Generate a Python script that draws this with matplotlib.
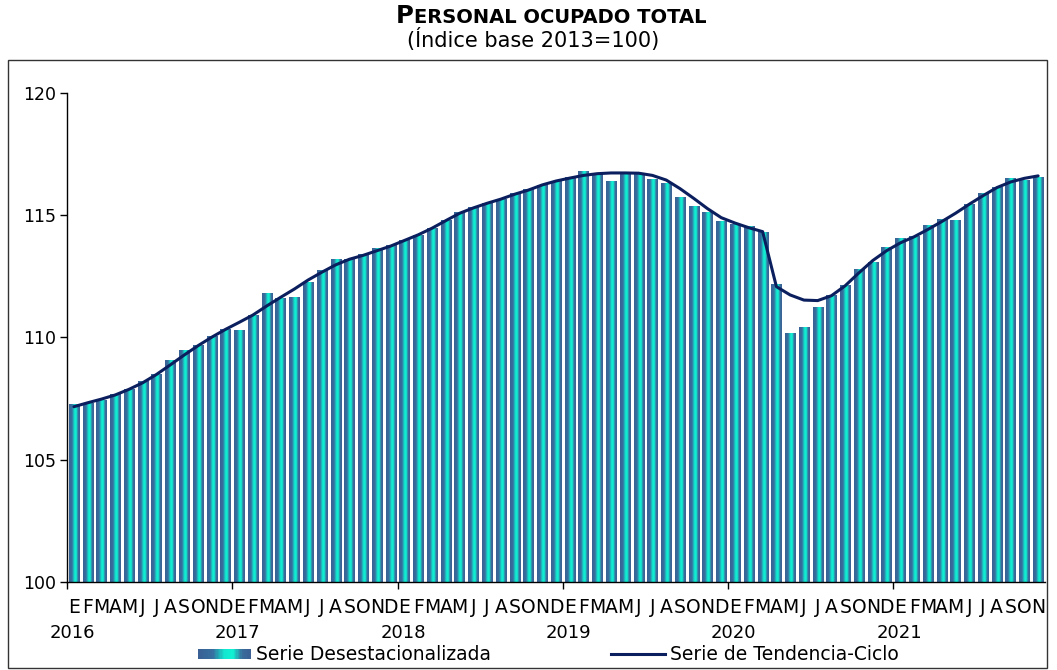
# -*- coding: utf-8 -*-
"""
Personal ocupado total, indice base 2013=100
Serie desestacionalizada (barras) y serie de tendencia-ciclo (linea)
"""

import numpy as np
import matplotlib
matplotlib.use("Agg")
import matplotlib.pyplot as plt
from matplotlib.colors import LinearSegmentedColormap
from matplotlib.legend_handler import HandlerBase
from matplotlib.patches import Rectangle
from matplotlib.lines import Line2D
from matplotlib.transforms import blended_transform_factory


#%% Data (ene 2016 - nov 2021)

years = ["2016", "2017", "2018", "2019", "2020", "2021"]
month_letters = ["E", "F", "M", "A", "M", "J", "J", "A", "S", "O", "N", "D"]

desestacionalizada = [
    107.26, 107.30, 107.42, 107.65, 107.88, 108.18, 108.47, 109.04, 109.45, 109.69, 110.03, 110.33,   # 2016
    110.27, 110.88, 111.82, 111.59, 111.62, 112.23, 112.72, 113.21, 113.18, 113.39, 113.65, 113.76,   # 2017
    113.96, 114.18, 114.44, 114.77, 115.11, 115.32, 115.49, 115.65, 115.87, 116.07, 116.22, 116.36,   # 2018
    116.56, 116.80, 116.72, 116.36, 116.69, 116.72, 116.47, 116.28, 115.72, 115.34, 115.12, 114.74,   # 2019
    114.64, 114.56, 114.29, 112.15, 110.18, 110.39, 111.22, 111.70, 112.12, 112.77, 113.05, 113.70,   # 2020
    114.03, 114.12, 114.59, 114.81, 114.78, 115.42, 115.90, 116.13, 116.51, 116.43, 116.56,           # 2021
]

tendencia = [
    107.17, 107.33, 107.48, 107.65, 107.88, 108.15, 108.49, 108.88, 109.28, 109.66, 110.01, 110.33,
    110.62, 110.92, 111.29, 111.64, 111.98, 112.35, 112.67, 112.97, 113.20, 113.36, 113.55, 113.74,
    113.97, 114.20, 114.47, 114.78, 115.08, 115.30, 115.49, 115.66, 115.86, 116.03, 116.24, 116.40,
    116.52, 116.63, 116.70, 116.73, 116.73, 116.72, 116.63, 116.44, 116.09, 115.69, 115.27, 114.90,
    114.68, 114.49, 114.33, 112.08, 111.74, 111.53, 111.51, 111.71, 112.12, 112.65, 113.15, 113.55,
    113.87, 114.12, 114.42, 114.74, 115.08, 115.45, 115.80, 116.13, 116.36, 116.51, 116.61,
]

#%% Styles

W, H = 1057, 670
line_color = "#0B1F5E"
bar_blue = "#3A6094"
bar_cmap = LinearSegmentedColormap.from_list(
    "barra", [(0.0, bar_blue), (0.28, "#3670A0"), (0.50, "#12E6CF"),
              (0.66, "#10F3D4"), (0.84, "#3A6E9C"), (1.0, bar_blue)])
gradient = np.linspace(0, 1, 64).reshape(1, -1)


class HandlerGradient(HandlerBase):
    """Legend swatch made of thin stripes following the bar gradient"""
    def create_artists(self, legend, orig_handle, xdescent, ydescent,
                       width, height, fontsize, trans):
        n = 40
        stripes = []
        for k in range(n):
            r = Rectangle((-xdescent + k * width / n, -ydescent + height * 0.1),
                          width / n * 1.05, height * 0.8,
                          facecolor=bar_cmap(k / (n - 1)), edgecolor="none",
                          transform=trans)
            stripes.append(r)
        return stripes


#%% Figure

plt.rcParams['font.family'] = ['DejaVu Sans']
fig = plt.figure(figsize=(W / 100, H / 100), dpi=100)
ax = fig.add_axes([67 / W, 1 - 582 / H, (1045 - 67) / W, (582 - 93) / H])

x = np.arange(len(desestacionalizada))
vals = np.array(desestacionalizada)
bars = ax.bar(x, vals - 100, bottom=100, width=0.74, color="none", zorder=2)

for p in bars.patches:                                                   # Gradient fill per bar
    x0, w = p.get_x(), p.get_width()
    top = p.get_y() + p.get_height()
    ax.imshow(gradient, extent=[x0, x0 + w, 100, top], aspect="auto",
              cmap=bar_cmap, interpolation="bilinear", zorder=2)

ax.plot(np.arange(len(tendencia)), tendencia, color=line_color, lw=2.2,
        zorder=3, solid_capstyle="round")

ax.set_xlim(-0.5, 70.5)
ax.set_ylim(100, 120)
ax.set_yticks([100, 105, 110, 115, 120])
ax.tick_params(axis="y", direction="out", length=5, width=1, labelsize=12.5, pad=3)

ax.set_xticks(np.arange(-0.5, 60, 12))
ax.set_xticklabels([])
ax.tick_params(axis="x", which="major", direction="out", length=5, width=1)

for s in ["top", "right"]:
    ax.spines[s].set_visible(False)
for s in ["left", "bottom"]:
    ax.spines[s].set_linewidth(1)

trans = blended_transform_factory(ax.transData, ax.transAxes)
for i in range(len(desestacionalizada)):                                  # Month letters
    ax.text(i, -0.053, month_letters[i % 12], transform=trans, ha="center",
            va="center", fontsize=13.5, color="black")
for j, yr in enumerate(years):                                            # Year labels
    ax.text(12 * j - 0.1, -0.104, yr, transform=trans, ha="center",
            va="center", fontsize=13, color="black")

# Title with small caps look
t1 = fig.text(0, 1 - 23 / H, "P", fontsize=17.5, fontweight="bold", va="baseline")
t2 = fig.text(0, 1 - 23 / H, "ERSONAL OCUPADO TOTAL", fontsize=14,
              fontweight="bold", va="baseline")
fig.text(533 / W, 1 - 40 / H, "(Índice base 2013=100)", fontsize=15,
         ha="center", va="center")

fig.canvas.draw()
r = fig.canvas.get_renderer()
w1 = t1.get_window_extent(r).width
w2 = t2.get_window_extent(r).width
x_start = 551 - (w1 + w2) / 2
t1.set_x(x_start / W)
t2.set_x((x_start + w1 + 0.5) / W)

# Outer frame
fig.add_artist(Rectangle((8 / W, 1 - 668 / H), (1047 - 8) / W, (668 - 60) / H,
                         transform=fig.transFigure, fill=False,
                         edgecolor="#333333", lw=1))

handles = [Rectangle((0, 0), 1, 1), Line2D([0], [0], color=line_color, lw=2.2)]
labels = ["Serie Desestacionalizada", "Serie de Tendencia-Ciclo"]
fig.legend(handles, labels, loc="center", bbox_to_anchor=(548 / W, 1 - 655 / H),
           ncol=2, frameon=False, fontsize=13.5, handlelength=2.85,
           handletextpad=0.27, columnspacing=6.4, borderpad=0,
           handler_map={Rectangle: HandlerGradient()})

fig.savefig("out.png", dpi=100)
